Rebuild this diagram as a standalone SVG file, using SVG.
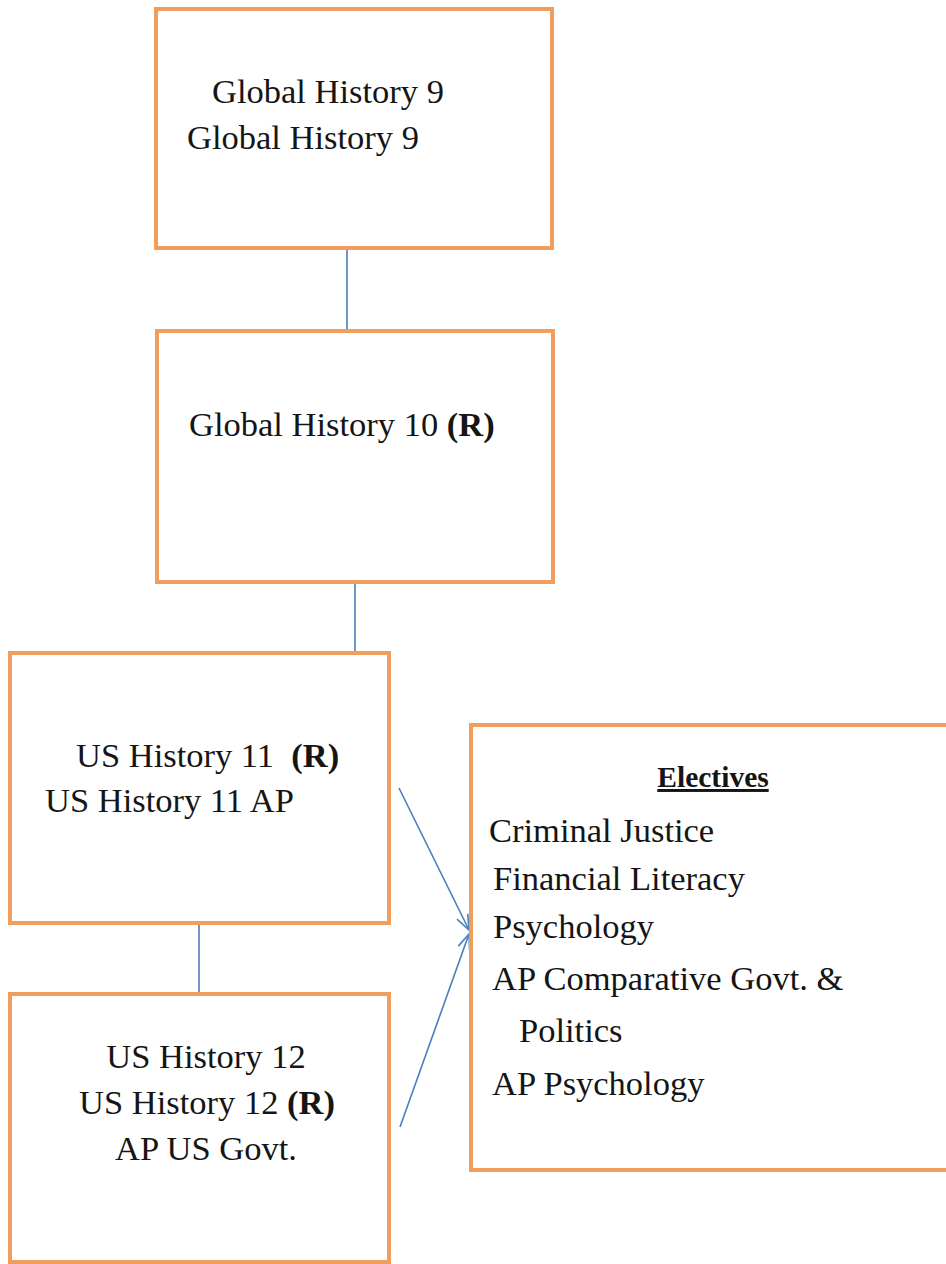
<svg xmlns="http://www.w3.org/2000/svg" width="946" height="1264" viewBox="0 0 946 1264">
<defs>
<style>
.box{fill:#fff;stroke:#F09D5E;stroke-width:4}
.t{font-family:"Liberation Serif","Times New Roman",serif;font-size:34.5px;fill:#151515}
.b{font-weight:bold}
.conn{stroke:#4A7EBB;stroke-width:1.6;fill:none}
</style>
<marker id="arr" markerUnits="userSpaceOnUse" markerWidth="24" markerHeight="24" viewBox="-20 -10 24 20" refX="0" refY="0" orient="auto">
<path d="M-15 -6 L0 0 L-15 6" fill="none" stroke="#4A7EBB" stroke-width="1.6"/>
</marker>
</defs>
<rect width="946" height="1264" fill="#fff"/>
<g id="connectors">
<line class="conn" x1="347" y1="250" x2="347" y2="329"/>
<line class="conn" x1="355" y1="584" x2="355" y2="651"/>
<line class="conn" x1="199" y1="925" x2="199" y2="992"/>
<line class="conn" x1="399" y1="788" x2="469" y2="930" marker-end="url(#arr)"/>
<line class="conn" x1="400" y1="1127" x2="469" y2="934" marker-end="url(#arr)"/>
</g>
<g id="node-gh9">
<rect class="box" x="156" y="9" width="396" height="239"/>
<text class="t" x="212" y="103">Global History 9</text>
<text class="t" x="187" y="149">Global History 9</text>
</g>
<g id="node-gh10">
<rect class="box" x="157" y="331" width="396" height="251"/>
<text class="t" x="189" y="436">Global History 10 <tspan class="b">(R)</tspan></text>
</g>
<g id="node-us11">
<rect class="box" x="10" y="653" width="379" height="270"/>
<text class="t" x="76" y="767" xml:space="preserve">US History 11  <tspan class="b">(R)</tspan></text>
<text class="t" x="45" y="812">US History 11 AP</text>
</g>
<g id="node-us12">
<rect class="box" x="10" y="994" width="379" height="268"/>
<text class="t" x="206" y="1068" text-anchor="middle">US History 12</text>
<text class="t" x="207" y="1114" text-anchor="middle">US History 12 <tspan class="b">(R)</tspan></text>
<text class="t" x="206" y="1160" text-anchor="middle">AP US Govt.</text>
</g>
<g id="node-electives">
<rect class="box" x="471" y="725" width="480" height="445"/>
<text class="t b" x="713" y="787" text-anchor="middle" style="font-size:29.5px;text-decoration:underline">Electives</text>
<text class="t" x="489" y="842">Criminal Justice</text>
<text class="t" x="493" y="890">Financial Literacy</text>
<text class="t" x="493" y="938">Psychology</text>
<text class="t" x="492" y="990">AP Comparative Govt. &amp;</text>
<text class="t" x="519" y="1042">Politics</text>
<text class="t" x="492" y="1095">AP Psychology</text>
</g>
</svg>
